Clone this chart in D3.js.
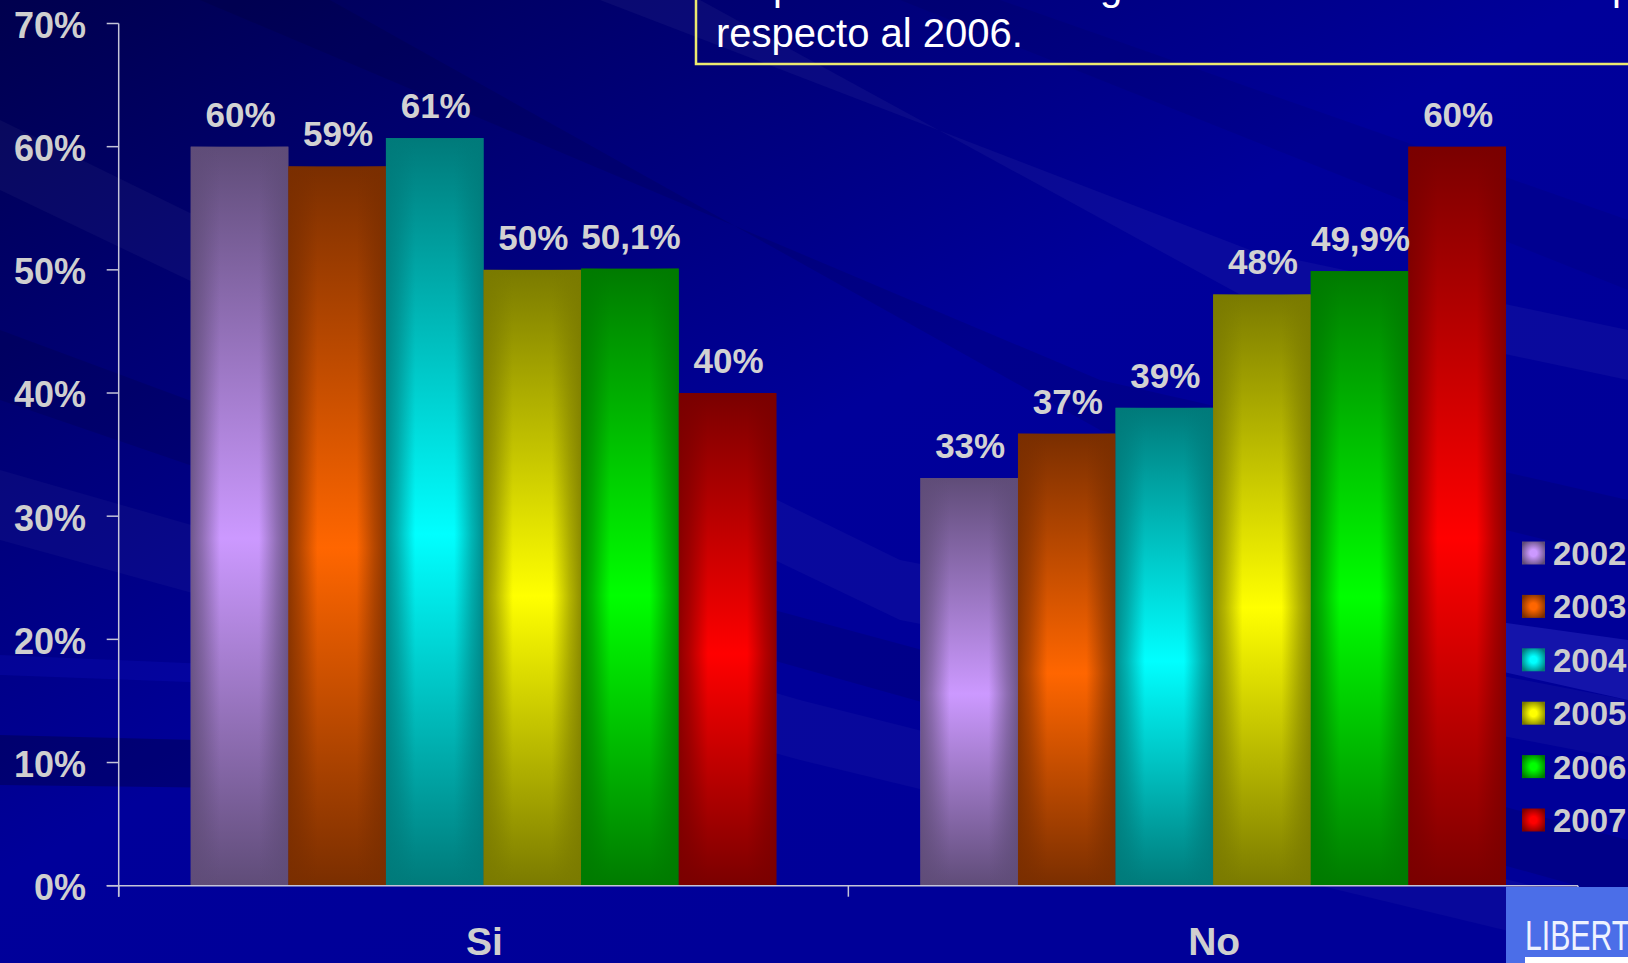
<!DOCTYPE html>
<html>
<head>
<meta charset="utf-8">
<script src="https://cdn.jsdelivr.net/npm/d3@7"></script>
<style>
  html, body { margin: 0; padding: 0; background: #000090; overflow: hidden; }
  svg { display: block; }
</style>
</head>
<body>
<svg id="chart" width="1628" height="963"></svg>
<script>
// ---------- data ----------
const categories = ["Si", "No"];
const years = ["2002", "2003", "2004", "2005", "2006", "2007"];
const valuesSi = [60, 58.4, 60.7, 50, 50.1, 40];
const valuesNo = [33.1, 36.7, 38.8, 48, 49.9, 60];
const labelsSi = ["60%", "59%", "61%", "50%", "50,1%", "40%"];
const labelsNo = ["33%", "37%", "39%", "48%", "49,9%", "60%"];
const yTickValues = [0, 10, 20, 30, 40, 50, 60, 70];
const yTickLabels = ["0%", "10%", "20%", "30%", "40%", "50%", "60%", "70%"];
const titleLine = "respecto al 2006.";
const logoText = "LIBERT";

// ---------- styles ----------
const darkColors = ["#5f4c78", "#7a2e00", "#007a7a", "#7a7a00", "#007a00", "#7a0000"];
const brightColors = ["#cc99ff", "#ff6600", "#00ffff", "#ffff00", "#00ff00", "#ff0000"];
const W = 1628, H = 963;
const svg = d3.select("#chart");
const defs = svg.append("defs");

// ---------- background ----------
const bg = defs.append("linearGradient").attr("id", "bg")
  .attr("x1", 0).attr("y1", 0).attr("x2", 0.7).attr("y2", 0.75);
bg.append("stop").attr("offset", 0).attr("stop-color", "#00004e");
bg.append("stop").attr("offset", 0.35).attr("stop-color", "#000078");
bg.append("stop").attr("offset", 0.65).attr("stop-color", "#00009a");
bg.append("stop").attr("offset", 1).attr("stop-color", "#000098");
svg.append("rect").attr("width", W).attr("height", H).attr("fill", "url(#bg)");

// diagonal streaks
const streaks = [
  {pts: [[0,120],[0,190],[900,620],[1628,760],[1628,700],[900,560]], c: "#ffffff", o: 0.035},
  {pts: [[0,330],[0,400],[700,640],[1628,900],[1628,840],[700,590]], c: "#000000", o: 0.10},
  {pts: [[200,0],[330,0],[1100,430],[1628,560],[1628,500],[1100,380]], c: "#000000", o: 0.09},
  {pts: [[600,0],[700,0],[1250,300],[1628,380],[1628,330],[1250,250]], c: "#ffffff", o: 0.04},
  {pts: [[0,470],[0,540],[800,760],[1628,960],[1628,910],[800,700]], c: "#ffffff", o: 0.03},
  {pts: [[1450,615],[1628,640],[1628,700],[1450,660]], c: "#6d6dff", o: 0.18},
  {pts: [[0,735],[0,785],[400,790],[400,745]], c: "#000000", o: 0.22},
  {pts: [[0,655],[0,675],[400,690],[400,672]], c: "#2020ff", o: 0.12},
  {pts: [[900,0],[1000,0],[1628,220],[1628,290]], c: "#000000", o: 0.06}
];
svg.append("g").selectAll("polygon").data(streaks).join("polygon")
  .attr("points", d => d.pts.map(p => p.join(",")).join(" "))
  .attr("fill", d => d.c).attr("fill-opacity", d => d.o);

// ---------- scales ----------
const y = d3.scaleLinear().domain([0, 70]).range([885.7, 23.5]);
const x0 = d3.scaleBand().domain(categories).range([118.7, 1578]).padding(0);
const x1 = d3.scaleBand().domain(years).range([0, x0.bandwidth()])
  .paddingInner(0).paddingOuter(0.738);

// ---------- gradients per series ----------
years.forEach((yr, i) => {
  const v = defs.append("linearGradient").attr("id", "v" + i)
    .attr("x1", 0).attr("y1", 0).attr("x2", 0).attr("y2", 1);
  v.append("stop").attr("offset", 0).attr("stop-color", darkColors[i]);
  v.append("stop").attr("offset", 0.53).attr("stop-color", brightColors[i]);
  v.append("stop").attr("offset", 1).attr("stop-color", darkColors[i]);

  const h = defs.append("linearGradient").attr("id", "h" + i)
    .attr("x1", 0).attr("y1", 0).attr("x2", 1).attr("y2", 0);
  [[0, 0.85], [0.12, 0.55], [0.3, 0], [0.7, 0], [0.88, 0.55], [1, 0.85]].forEach(s => {
    h.append("stop").attr("offset", s[0]).attr("stop-color", darkColors[i]).attr("stop-opacity", s[1]);
  });

  const r = defs.append("radialGradient").attr("id", "r" + i)
    .attr("cx", 0.5).attr("cy", 0.5).attr("r", 0.6);
  r.append("stop").attr("offset", 0.25).attr("stop-color", brightColors[i]);
  r.append("stop").attr("offset", 1).attr("stop-color", darkColors[i]);
});

// ---------- bars ----------
const seriesByCat = {Si: valuesSi, No: valuesNo};
const labelsByCat = {Si: labelsSi, No: labelsNo};
const barData = [];
categories.forEach(c => years.forEach((yr, i) => {
  barData.push({cat: c, year: yr, i: i, value: seriesByCat[c][i], label: labelsByCat[c][i]});
}));

const gBars = svg.append("g");
gBars.selectAll("rect.base").data(barData).join("rect").attr("class", "base")
  .attr("x", d => x0(d.cat) + x1(d.year))
  .attr("y", d => y(d.value))
  .attr("width", x1.bandwidth())
  .attr("height", d => y(0) - y(d.value))
  .attr("fill", d => "url(#v" + d.i + ")");
gBars.selectAll("rect.shade").data(barData).join("rect").attr("class", "shade")
  .attr("x", d => x0(d.cat) + x1(d.year))
  .attr("y", d => y(d.value))
  .attr("width", x1.bandwidth())
  .attr("height", d => y(0) - y(d.value))
  .attr("fill", d => "url(#h" + d.i + ")");

// value labels
svg.append("g").selectAll("text").data(barData).join("text")
  .attr("x", d => x0(d.cat) + x1(d.year) + x1.bandwidth() / 2 + 1)
  .attr("y", d => y(d.value) - 20)
  .attr("text-anchor", "middle")
  .attr("font-family", "'Liberation Sans', Arial, sans-serif")
  .attr("font-weight", "bold")
  .attr("font-size", 35)
  .attr("fill", "#d2d2d2")
  .text(d => d.label);

// ---------- axes ----------
const axisColor = "#c4c4d8";
const gAxes = svg.append("g").attr("stroke", axisColor).attr("stroke-width", 1.5);
gAxes.append("line").attr("x1", x0.range()[0]).attr("x2", x0.range()[0])
  .attr("y1", y(70)).attr("y2", y(0) + 11);
gAxes.selectAll("line.yt").data(yTickValues).join("line").attr("class", "yt")
  .attr("x1", x0.range()[0] - 12).attr("x2", x0.range()[0])
  .attr("y1", d => y(d)).attr("y2", d => y(d));
gAxes.append("line").attr("x1", x0.range()[0] - 12).attr("x2", x0.range()[1])
  .attr("y1", y(0)).attr("y2", y(0));
const xBounds = [x0.range()[0], x0("No"), x0.range()[1]];
gAxes.selectAll("line.xt").data(xBounds).join("line").attr("class", "xt")
  .attr("x1", d => d).attr("x2", d => d)
  .attr("y1", y(0)).attr("y2", y(0) + 11);

// y tick labels
svg.append("g").selectAll("text").data(yTickValues).join("text")
  .attr("x", 86).attr("y", d => y(d)).attr("dy", "0.4em")
  .attr("text-anchor", "end")
  .attr("font-family", "'Liberation Sans', Arial, sans-serif")
  .attr("font-weight", "bold").attr("font-size", 36)
  .attr("fill", "#cfcfcf")
  .text((d, i) => yTickLabels[i]);

// category labels
svg.append("g").selectAll("text").data(categories).join("text")
  .attr("x", d => x0(d) + x0.bandwidth() / 2 + 1)
  .attr("y", 955)
  .attr("text-anchor", "middle")
  .attr("font-family", "'Liberation Sans', Arial, sans-serif")
  .attr("font-weight", "bold").attr("font-size", 39)
  .attr("fill", "#cfcfcf")
  .text(d => d);

// ---------- legend ----------
const legend = svg.append("g");
const legRow = d3.scalePoint().domain(years).range([553, 820]);
legend.selectAll("rect").data(years).join("rect")
  .attr("x", 1522).attr("y", d => legRow(d) - 11.5)
  .attr("width", 23).attr("height", 23)
  .attr("fill", (d, i) => "url(#r" + i + ")");
legend.selectAll("text").data(years).join("text")
  .attr("x", 1553).attr("y", d => legRow(d) + 12)
  .attr("font-family", "'Liberation Sans', Arial, sans-serif")
  .attr("font-weight", "bold").attr("font-size", 33)
  .attr("fill", "#cdcdcd")
  .text(d => d);

// ---------- title box ----------
svg.append("rect").attr("x", 696).attr("y", -10).attr("width", 1000).attr("height", 74)
  .attr("fill", "none").attr("stroke", "#ecea70").attr("stroke-width", 2.5);
svg.append("text").attr("x", 716).attr("y", 47)
  .attr("font-family", "'Liberation Sans', Arial, sans-serif")
  .attr("font-size", 40).attr("fill", "#ffffff")
  .text(titleLine);
// descenders of the clipped previous line
[["p", 773], ["g", 1100], ["p", 1612]].forEach(g => {
  svg.append("text").attr("x", g[1]).attr("y", 0)
    .attr("font-family", "'Liberation Sans', Arial, sans-serif")
    .attr("font-size", 40).attr("fill", "#ffffff").text(g[0]);
});

// ---------- logo ----------
svg.append("rect").attr("x", 1506).attr("y", 887).attr("width", 130).attr("height", 80)
  .attr("fill", "#4b6ee8");
svg.append("text").attr("transform", "translate(1525,950) scale(0.72,1)")
  .attr("font-family", "'Liberation Sans', Arial, sans-serif")
  .attr("font-size", 42).attr("fill", "#eef2ff")
  .text(logoText);
svg.append("rect").attr("x", 1525).attr("y", 957).attr("width", 110).attr("height", 7)
  .attr("fill", "#ffffff");
</script>
</body>
</html>
